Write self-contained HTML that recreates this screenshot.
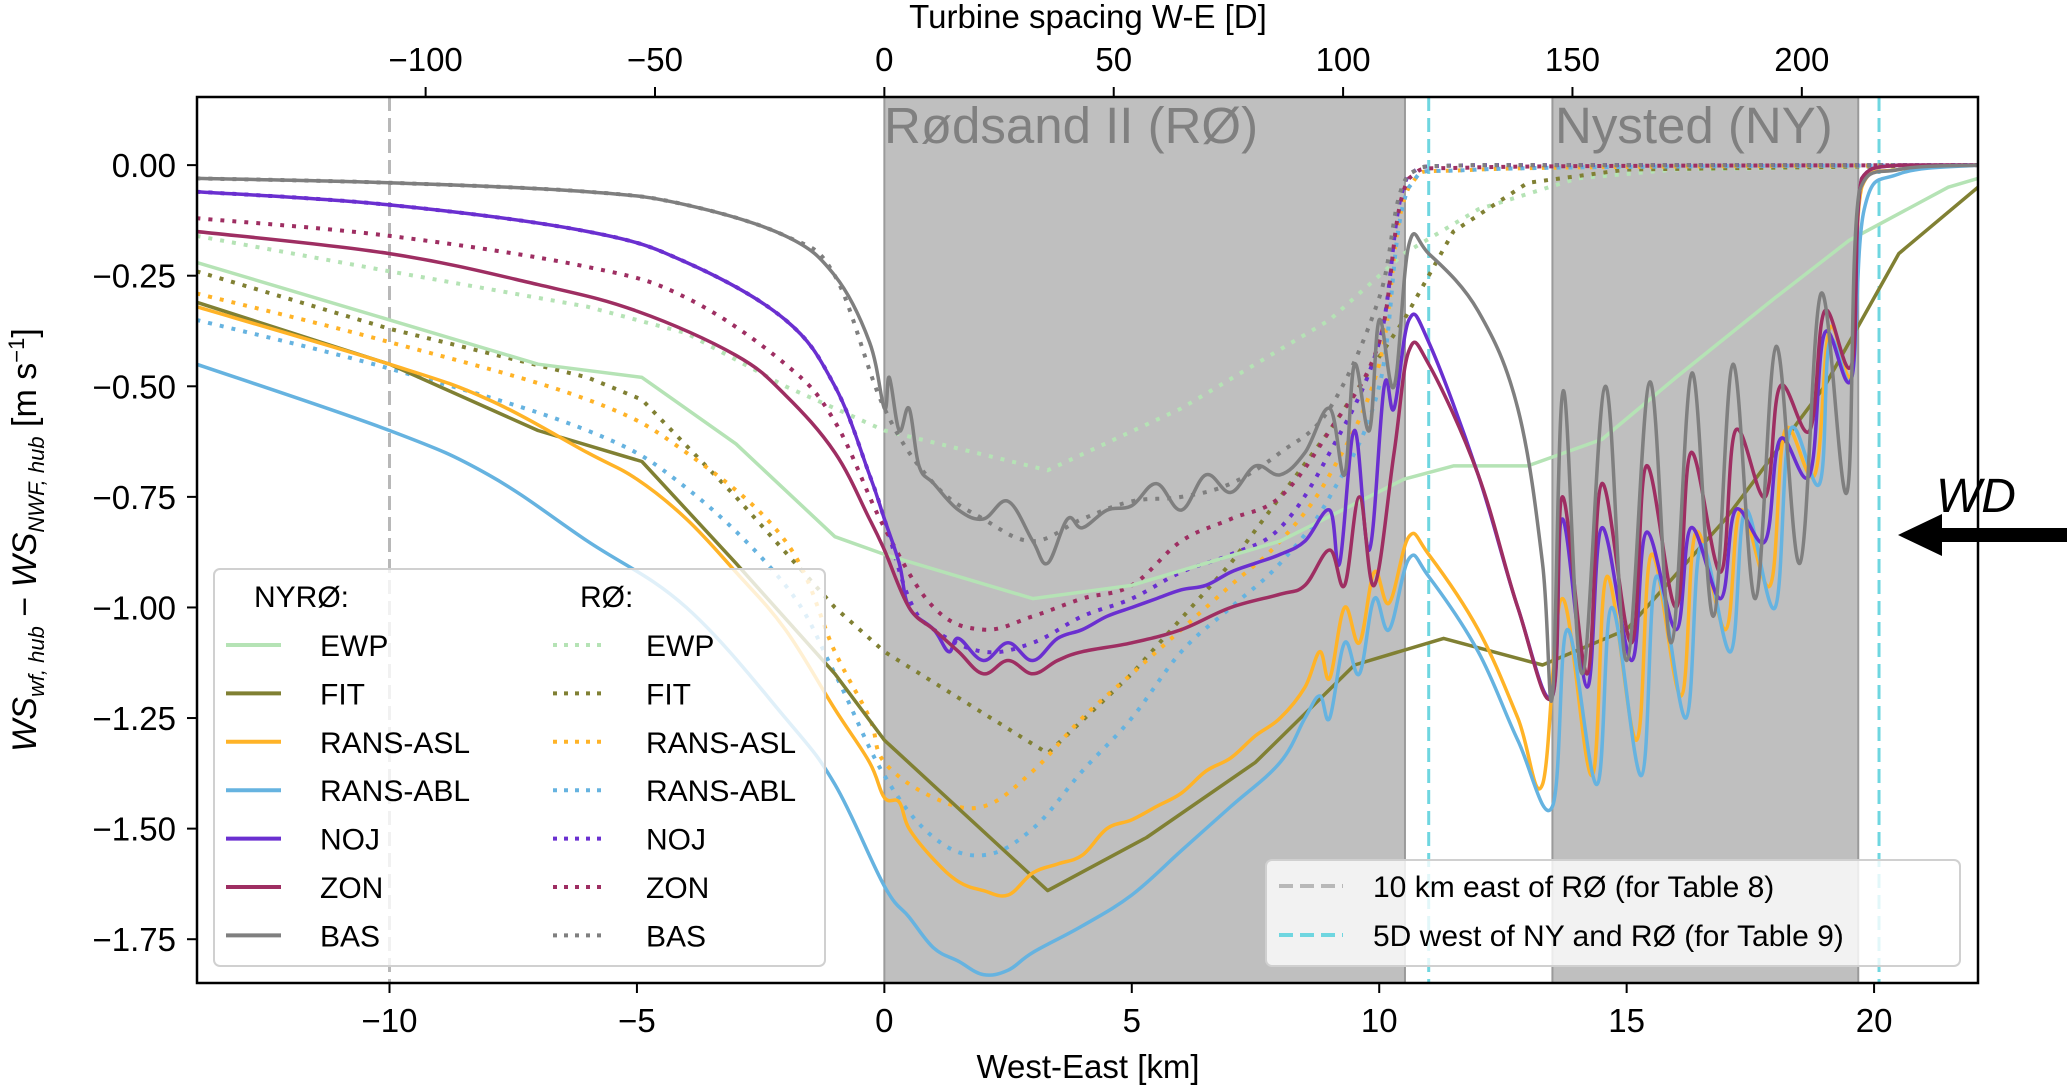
<!DOCTYPE html>
<html><head><meta charset="utf-8">
<style>
html,body{margin:0;padding:0;background:#fff;}
svg{display:block;font-family:"Liberation Sans",sans-serif;}
</style></head>
<body>
<svg id="chart" width="2067" height="1087" viewBox="0 0 2067 1087" xmlns="http://www.w3.org/2000/svg">
<defs><clipPath id="plotclip"><rect x="197" y="97" width="1781" height="886"/></clipPath></defs>
<g id="shade" clip-path="url(#plotclip)"></g>
<g id="vlines" clip-path="url(#plotclip)"></g>
<g id="series" clip-path="url(#plotclip)"></g>
<g id="axes"></g>
<g id="legends"></g>
<text x="1088" y="1078" font-size="33" text-anchor="middle">West-East [km]</text>
<text x="1088" y="28" font-size="33" text-anchor="middle">Turbine spacing W-E [D]</text>
<text transform="translate(36,540) rotate(-90)" font-size="34" text-anchor="middle"><tspan font-style="italic">WS</tspan><tspan font-style="italic" font-size="22" dy="8">wf, hub</tspan><tspan dy="-8"> − </tspan><tspan font-style="italic">WS</tspan><tspan font-style="italic" font-size="22" dy="8">NWF, hub</tspan><tspan dy="-8"> [m s</tspan><tspan font-size="22" dy="-12">−1</tspan><tspan dy="12">]</tspan></text>
<text x="884" y="143" font-size="51" fill="#808080">Rødsand II (RØ)</text>
<text x="1555" y="143" font-size="51" fill="#808080">Nysted (NY)</text>
<text x="1936" y="512" font-size="48" font-style="italic">WD</text>
<g><polygon points="1898,535 1942,514 1942,528 2067,528 2067,542 1942,542 1942,556" fill="#000"/></g>
</svg>
<script>
const NS='http://www.w3.org/2000/svg';
const X0=-13.89,X1=22.1,Y0=-1.849,Y1=0.154;
const PL=197,PR=1978,PT=97,PB=983;
function sx(v){return PL+(v-X0)/(X1-X0)*(PR-PL);}
function sy(v){return PB-(v-Y0)/(Y1-Y0)*(PB-PT);}
const D_KM=0.0927;

const xTicks=[-10,-5,0,5,10,15,20];
const yTicks=[0,-0.25,-0.5,-0.75,-1.0,-1.25,-1.5,-1.75];
const yTickLabels=['0.00','−0.25','−0.50','−0.75','−1.00','−1.25','−1.50','−1.75'];
const topTicks=[-100,-50,0,50,100,150,200];
const farms=[['RØ',0,10.52],['NY',13.5,19.68]];
const refLines=[['10km-east',-10,'#b8b8b8'],['5d-ny',11.0,'#6fd6e0'],['5d-ro',20.1,'#6fd6e0']];

// solid NYRØ series [km, value]
const ewpNYRO=[[-13.9,-0.22],[-10,-0.35],[-7,-0.45],[-4.9,-0.48],[-3,-0.63],[-1,-0.84],[0,-0.88],[3,-0.98],[5,-0.95],[8,-0.85],[10.5,-0.71],[11.5,-0.68],[13,-0.68],[14.5,-0.62],[16,-0.48],[18,-0.3],[19.5,-0.17],[21.5,-0.05],[22.1,-0.03]];
const fitNYRO=[[-13.9,-0.31],[-10,-0.45],[-7,-0.6],[-4.9,-0.67],[-3,-0.9],[-1,-1.15],[0,-1.3],[3.3,-1.64],[5.3,-1.52],[7.5,-1.35],[9.5,-1.13],[11.3,-1.07],[13.3,-1.13],[15,-1.05],[17,-0.8],[19,-0.5],[20.5,-0.2],[22.1,-0.05]];
const aslNYRO=[[-13.9,-0.32],[-10,-0.45],[-8,-0.53],[-6,-0.65],[-5,-0.71],[-4,-0.8],[-3,-0.92],[-2,-1.05],[-1,-1.23],[-0.3,-1.35],[0,-1.43],[0.3,-1.44],[0.5,-1.5],[1,-1.57],[1.5,-1.62],[2,-1.64],[2.5,-1.65],[3,-1.6],[3.5,-1.58],[4,-1.56],[4.5,-1.5],[5,-1.48],[5.5,-1.45],[6,-1.42],[6.5,-1.37],[7,-1.34],[7.5,-1.29],[8,-1.25],[8.5,-1.18],[8.8,-1.1],[9,-1.16],[9.3,-1.0],[9.6,-1.08],[9.9,-0.92],[10.2,-0.99],[10.6,-0.84],[11,-0.88],[12,-1.05],[12.8,-1.25],[13.3,-1.4],[13.7,-0.98],[14.3,-1.38],[14.6,-0.93],[15.2,-1.3],[15.5,-0.88],[16.1,-1.2],[16.4,-0.83],[17,-1.05],[17.3,-0.78],[17.9,-0.95],[18.2,-0.6],[18.8,-0.7],[19.1,-0.37],[19.55,-0.47],[19.75,-0.05],[20.5,-0.01],[22.1,0]];
const ablNYRO=[[-13.9,-0.45],[-10,-0.6],[-8,-0.7],[-6,-0.85],[-4,-1.0],[-2,-1.25],[-1,-1.4],[0,-1.63],[0.5,-1.7],[1,-1.77],[1.5,-1.8],[2,-1.83],[2.5,-1.82],[3,-1.78],[4,-1.72],[5,-1.65],[6,-1.55],[7,-1.45],[8,-1.35],[8.5,-1.25],[8.8,-1.2],[9,-1.25],[9.3,-1.08],[9.6,-1.15],[9.9,-0.98],[10.2,-1.05],[10.6,-0.89],[11,-0.93],[12,-1.1],[12.8,-1.3],[13.5,-1.45],[13.8,-1.05],[14.4,-1.4],[14.7,-1.0],[15.3,-1.38],[15.6,-0.93],[16.2,-1.25],[16.5,-0.86],[17.1,-1.1],[17.4,-0.78],[18,-1.0],[18.3,-0.6],[18.9,-0.72],[19.1,-0.4],[19.55,-0.48],[19.8,-0.1],[20.5,-0.02],[22.1,0]];
const nojNYRO=[[-13.9,-0.06],[-10,-0.09],[-6,-0.15],[-4,-0.22],[-2,-0.35],[-1,-0.5],[-0.3,-0.7],[0,-0.8],[0.3,-0.9],[0.5,-1.0],[1,-1.05],[1.3,-1.1],[1.5,-1.07],[2,-1.12],[2.5,-1.08],[3,-1.12],[3.5,-1.07],[4,-1.05],[4.5,-1.02],[5,-1.0],[5.5,-0.98],[6,-0.96],[6.5,-0.95],[7,-0.92],[7.5,-0.9],[8,-0.88],[8.5,-0.85],[9,-0.78],[9.2,-0.9],[9.5,-0.6],[9.8,-0.87],[10.1,-0.5],[10.3,-0.55],[10.6,-0.35],[11,-0.4],[12,-0.7],[12.8,-1.0],[13.5,-1.2],[13.7,-0.8],[14.2,-1.18],[14.5,-0.82],[15.1,-1.12],[15.4,-0.83],[16,-1.05],[16.3,-0.82],[16.9,-0.98],[17.2,-0.78],[17.8,-0.85],[18.1,-0.62],[18.7,-0.7],[19.0,-0.38],[19.55,-0.48],[19.75,-0.03],[20.5,0],[22.1,0]];
const zonNYRO=[[-13.9,-0.15],[-10,-0.2],[-7,-0.27],[-5,-0.33],[-3,-0.43],[-2,-0.52],[-1,-0.65],[-0.3,-0.8],[0,-0.87],[0.5,-1.0],[1,-1.05],[1.5,-1.1],[2,-1.15],[2.5,-1.12],[3,-1.15],[3.5,-1.12],[4,-1.1],[5,-1.08],[6,-1.05],[7,-1.0],[8,-0.97],[8.5,-0.95],[9,-0.87],[9.3,-0.95],[9.6,-0.75],[9.9,-0.95],[10.3,-0.65],[10.6,-0.42],[11,-0.45],[12,-0.7],[12.8,-1.0],[13.5,-1.2],[13.7,-0.75],[14.2,-1.15],[14.5,-0.72],[15.1,-1.08],[15.4,-0.68],[16,-1.0],[16.3,-0.65],[16.9,-0.92],[17.2,-0.6],[17.8,-0.75],[18.1,-0.5],[18.7,-0.6],[19.0,-0.33],[19.55,-0.45],[19.75,-0.03],[20.5,0],[22.1,0]];
const basNYRO=[[-13.9,-0.03],[-10,-0.04],[-6,-0.06],[-4,-0.09],[-2,-0.16],[-1,-0.25],[-0.3,-0.4],[0,-0.55],[0.1,-0.48],[0.3,-0.6],[0.5,-0.55],[0.7,-0.68],[1,-0.72],[1.5,-0.78],[2,-0.8],[2.5,-0.76],[3,-0.85],[3.3,-0.9],[3.7,-0.8],[4,-0.82],[4.5,-0.78],[5,-0.77],[5.5,-0.72],[6,-0.78],[6.5,-0.7],[7,-0.74],[7.5,-0.68],[8,-0.7],[8.5,-0.65],[9,-0.55],[9.3,-0.7],[9.5,-0.45],[9.8,-0.6],[10,-0.35],[10.3,-0.5],[10.6,-0.18],[11,-0.2],[12,-0.33],[12.8,-0.55],[13.3,-0.9],[13.5,-1.2],[13.72,-0.51],[14.1,-1.15],[14.57,-0.5],[15.0,-1.12],[15.47,-0.49],[15.9,-1.08],[16.32,-0.47],[16.75,-1.02],[17.15,-0.45],[17.6,-0.98],[18.02,-0.41],[18.5,-0.9],[18.93,-0.29],[19.45,-0.74],[19.7,-0.06],[20.5,-0.01],[22.1,0]];

// dotted RØ series
const ewpRO=[[-13.9,-0.16],[-10,-0.24],[-6,-0.32],[-4,-0.38],[-2,-0.5],[0,-0.6],[3.3,-0.69],[6,-0.55],[9,-0.35],[10.5,-0.2],[12,-0.1],[14,-0.03],[16,-0.01],[22.1,0]];
const fitRO=[[-13.9,-0.24],[-10,-0.37],[-6,-0.48],[-4.9,-0.53],[-3,-0.75],[-1,-1.0],[0,-1.1],[3.3,-1.33],[5,-1.15],[7,-0.9],[9,-0.6],[10.5,-0.35],[11.5,-0.15],[13,-0.04],[15,-0.01],[22.1,0]];
const aslRO=[[-13.9,-0.29],[-10,-0.4],[-6,-0.53],[-4,-0.65],[-2,-0.85],[-1,-1.1],[-0.3,-1.25],[0,-1.35],[1,-1.43],[2,-1.45],[3,-1.37],[4,-1.25],[5,-1.15],[6,-1.05],[7,-0.95],[8,-0.85],[9,-0.7],[10,-0.45],[10.6,-0.05],[12,-0.01],[22.1,0]];
const ablRO=[[-13.9,-0.35],[-10,-0.46],[-6,-0.6],[-4,-0.73],[-2,-0.95],[-1,-1.15],[0,-1.38],[1,-1.52],[2,-1.56],[3,-1.5],[4,-1.37],[5,-1.25],[6,-1.1],[7,-1.0],[8,-0.9],[9,-0.75],[10,-0.5],[10.6,-0.05],[12,-0.01],[22.1,0]];
const nojRO=[[-13.9,-0.06],[-10,-0.09],[-6,-0.15],[-4,-0.22],[-2,-0.35],[-1,-0.5],[-0.3,-0.7],[0,-0.8],[0.5,-0.98],[1,-1.05],[2,-1.1],[3,-1.08],[4,-1.02],[5,-0.98],[6,-0.92],[7,-0.88],[8,-0.82],[9,-0.65],[10,-0.4],[10.6,-0.02],[12,0],[22.1,0]];
const zonRO=[[-13.9,-0.12],[-10,-0.16],[-6,-0.23],[-4,-0.3],[-2,-0.45],[-1,-0.58],[0,-0.82],[1,-1.0],[2,-1.05],[3,-1.02],[4,-0.98],[5,-0.95],[6,-0.85],[7,-0.8],[8,-0.75],[9,-0.6],[10,-0.4],[10.6,-0.03],[12,-0.005],[22.1,0]];
const basRO=[[-13.9,-0.03],[-10,-0.04],[-6,-0.06],[-4,-0.09],[-2,-0.16],[-1,-0.25],[0,-0.55],[1,-0.72],[2,-0.8],[3,-0.85],[4,-0.8],[5,-0.76],[6,-0.75],[7,-0.72],[8,-0.65],[9,-0.55],[10,-0.3],[10.6,-0.02],[12,0],[22.1,0]];

const COL={EWP:'#b5e3b5',FIT:'#808033',ASL:'#ffb327',ABL:'#66b3e0',NOJ:'#6a2fd0',ZON:'#9e2e62',BAS:'#7f7f7f'};
const LINEAR={EWP:true,FIT:true};
const solidSeries=[['EWP',ewpNYRO],['FIT',fitNYRO],['RANS-ASL',aslNYRO,'ASL'],['RANS-ABL',ablNYRO,'ABL'],['NOJ',nojNYRO],['ZON',zonNYRO],['BAS',basNYRO]];
const dottedSeries=[['EWP',ewpRO],['FIT',fitRO],['RANS-ASL',aslRO,'ASL'],['RANS-ABL',ablRO,'ABL'],['NOJ',nojRO],['ZON',zonRO],['BAS',basRO]];

function mk(tag,attrs,parent){const e=document.createElementNS(NS,tag);for(const k in attrs)e.setAttribute(k,attrs[k]);parent.appendChild(e);return e;}

const shade=document.getElementById('shade');
farms.forEach(f=>{
  const r=mk('rect',{x:sx(f[1]),y:PT,width:sx(f[2])-sx(f[1]),height:PB-PT,fill:'#bfbfbf',stroke:'#9a9a9a','stroke-width':2},shade);
  
  
});
const vl=document.getElementById('vlines');
refLines.forEach(l=>{
  const e=mk('line',{x1:sx(l[1]),x2:sx(l[1]),y1:PT,y2:PB,stroke:l[2],'stroke-width':3,'stroke-dasharray':'14,7'},vl);
  
  
});
const sg=document.getElementById('series');
function linD(a){return a.map((q,i)=>(i?'L':'M')+sx(q[0]).toFixed(1)+','+sy(q[1]).toFixed(1)).join('');}
function pathD(a){
  const p=a.map(q=>[sx(q[0]),sy(q[1])]);
  let d='M'+p[0][0].toFixed(1)+','+p[0][1].toFixed(1);
  const t=0.18;
  for(let i=0;i<p.length-1;i++){
    const p0=p[Math.max(0,i-1)],p1=p[i],p2=p[i+1],p3=p[Math.min(p.length-1,i+2)];
    const c1=[p1[0]+(p2[0]-p0[0])*t,p1[1]+(p2[1]-p0[1])*t];
    const c2=[p2[0]-(p3[0]-p1[0])*t,p2[1]-(p3[1]-p1[1])*t];
    c1[0]=Math.min(Math.max(c1[0],p1[0]),p2[0]);c2[0]=Math.min(Math.max(c2[0],p1[0]),p2[0]);
    const lo=Math.min(p1[1],p2[1]),hi=Math.max(p1[1],p2[1]);
    const top=Math.min(...p.map(q=>q[1]));
    c1[1]=Math.max(c1[1],top);c2[1]=Math.max(c2[1],top);
    if(Math.abs(p1[1]-p2[1])<3){c1[1]=Math.min(Math.max(c1[1],lo),hi);c2[1]=Math.min(Math.max(c2[1],lo),hi);}
    d+='C'+c1[0].toFixed(1)+','+c1[1].toFixed(1)+' '+c2[0].toFixed(1)+','+c2[1].toFixed(1)+' '+p2[0].toFixed(1)+','+p2[1].toFixed(1);
  }
  return d;
}
dottedSeries.forEach(s=>{
  const e=mk('path',{d:LINEAR[s[0]]?linD(s[1]):pathD(s[1]),fill:'none',stroke:COL[s[2]||s[0]],'stroke-width':4,'stroke-dasharray':'4,8'},sg);
  
  
});
solidSeries.forEach(s=>{
  const e=mk('path',{d:LINEAR[s[0]]?linD(s[1]):pathD(s[1]),fill:'none',stroke:COL[s[2]||s[0]],'stroke-width':3.5,'stroke-linejoin':'round'},sg);
  
  
});

const ax=document.getElementById('axes');
const frame=mk('rect',{x:PL,y:PT,width:PR-PL,height:PB-PT,fill:'none',stroke:'#000','stroke-width':2.5},ax);


xTicks.forEach(v=>{
  const x=sx(v);
  mk('line',{x1:x,x2:x,y1:PB,y2:PB+10,stroke:'#000','stroke-width':2},ax);
  const t=mk('text',{x:x,y:1032,'font-size':33,'text-anchor':'middle'},ax);
  t.textContent=v<0?'−'+(-v):String(v);
  
  
});
topTicks.forEach(v=>{
  const x=sx(v*D_KM);
  mk('line',{x1:x,x2:x,y1:PT,y2:PT-10,stroke:'#000','stroke-width':2},ax);
  const t=mk('text',{x:x,y:71,'font-size':33,'text-anchor':'middle'},ax);
  t.textContent=v<0?'−'+(-v):String(v);
  
  
});
yTicks.forEach((v,i)=>{
  const y=sy(v);
  mk('line',{x1:PL,x2:PL-10,y1:y,y2:y,stroke:'#000','stroke-width':2},ax);
  const t=mk('text',{x:176,y:y+12,'font-size':33,'text-anchor':'end'},ax);
  t.textContent=yTickLabels[i];
  
  
});

const lg=document.getElementById('legends');
const box1=mk('rect',{x:214,y:569,width:611,height:397,rx:6,fill:'#ffffff','fill-opacity':0.8,stroke:'#d0d0d0','stroke-width':2},lg);


const h1=mk('text',{x:254,y:607,'font-size':30},lg);h1.textContent='NYRØ:';


const h2=mk('text',{x:580,y:607,'font-size':30},lg);h2.textContent='RØ:';


solidSeries.forEach((s,i)=>{
  const y=645+i*48.4;const c=COL[s[2]||s[0]];
  mk('line',{x1:226,x2:281,y1:y,y2:y,stroke:c,'stroke-width':4},lg);
  const t=mk('text',{x:320,y:y+11,'font-size':30},lg);t.textContent=s[0];
  
  
  mk('line',{x1:553,x2:607,y1:y,y2:y,stroke:c,'stroke-width':4,'stroke-dasharray':'4,7'},lg);
  const t2=mk('text',{x:646,y:y+11,'font-size':30},lg);t2.textContent=s[0];
  
  
});
const box2=mk('rect',{x:1266,y:860,width:694,height:106,rx:6,fill:'#ffffff','fill-opacity':0.8,stroke:'#d0d0d0','stroke-width':2},lg);


[['10 km east of RØ (for Table 8)','#b8b8b8',886],['5D west of NY and RØ (for Table 9)','#6fd6e0',935]].forEach(r=>{
  mk('line',{x1:1279,x2:1343,y1:r[2],y2:r[2],stroke:r[1],'stroke-width':4,'stroke-dasharray':'14,7'},lg);
  const t=mk('text',{x:1373,y:r[2]+11,'font-size':30},lg);t.textContent=r[0];
  
  
});
</script>
</body></html>
